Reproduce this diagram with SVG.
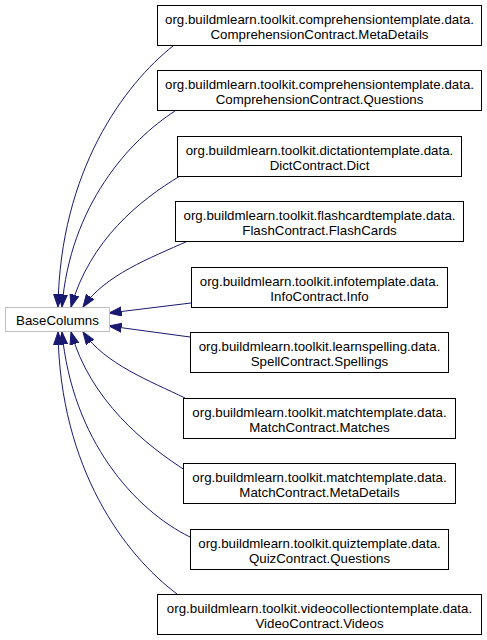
<svg xmlns="http://www.w3.org/2000/svg" width="487" height="640" viewBox="0 0 487 640">
<style>
.n rect{fill:#fff;stroke:#000;stroke-width:1}
.base rect{fill:#fff;stroke:#bfbfbf;stroke-width:1}
text{font-family:"Liberation Sans",Arial,Helvetica,sans-serif;font-size:13.3px;fill:#000;text-anchor:middle}
.e path{fill:none;stroke:#191970;stroke-width:1;marker-end:url(#ah)}
</style>
<defs>
<marker id="ah" markerUnits="userSpaceOnUse" markerWidth="14" markerHeight="11" refX="12.5" refY="5" orient="auto" viewBox="0 0 14 11">
<path d="M0,0.5 L12.5,5 L0,9.5 Z" fill="#191970" stroke="#191970" stroke-width="1"/>
</marker>
</defs>
<rect width="487" height="640" fill="#fff"/>
<g id="edges" class="e">
<path d="M173,46 C125,84 60,170 58,307"/>
<path d="M175,111 C130,140 70,205 62,307"/>
<path d="M180,176 C140,200 90,240 71,307"/>
<path d="M188,241 C150,258 105,275 83,307"/>
<path d="M191,303 L109,313"/>
<path d="M190,337 L109,326"/>
<path d="M185,398 C150,381 105,364 83,332"/>
<path d="M188,472 C145,445 90,400 71,332"/>
<path d="M190,537 C135,510 72,440 62,332"/>
<path d="M177,594 C125,555 60,469 58,332"/>
</g>
<g id="BaseColumns" class="base">
<rect x="5.5" y="307.5" width="104" height="24"/>
<text x="57.5" y="324.5">BaseColumns</text>
</g>
<g id="n1" class="n">
<rect x="157.5" y="5.5" width="324" height="40"/>
<text x="319.5" y="24">org.buildmlearn.toolkit.comprehensiontemplate.data.</text>
<text x="319.5" y="38.5">ComprehensionContract.MetaDetails</text>
</g>
<g id="n2" class="n">
<rect x="157.5" y="70.5" width="324" height="40"/>
<text x="319.5" y="89">org.buildmlearn.toolkit.comprehensiontemplate.data.</text>
<text x="319.5" y="103.5">ComprehensionContract.Questions</text>
</g>
<g id="n3" class="n">
<rect x="177.5" y="136.5" width="284" height="40"/>
<text x="319.5" y="155">org.buildmlearn.toolkit.dictationtemplate.data.</text>
<text x="319.5" y="169.5">DictContract.Dict</text>
</g>
<g id="n4" class="n">
<rect x="175.5" y="201.5" width="288" height="40"/>
<text x="319.5" y="220">org.buildmlearn.toolkit.flashcardtemplate.data.</text>
<text x="319.5" y="234.5">FlashContract.FlashCards</text>
</g>
<g id="n5" class="n">
<rect x="191.5" y="267.5" width="256" height="40"/>
<text x="319.5" y="286">org.buildmlearn.toolkit.infotemplate.data.</text>
<text x="319.5" y="300.5">InfoContract.Info</text>
</g>
<g id="n6" class="n">
<rect x="190.5" y="332.5" width="258" height="40"/>
<text x="319.5" y="351">org.buildmlearn.toolkit.learnspelling.data.</text>
<text x="319.5" y="365.5">SpellContract.Spellings</text>
</g>
<g id="n7" class="n">
<rect x="183.5" y="398.5" width="272" height="40"/>
<text x="319.5" y="417">org.buildmlearn.toolkit.matchtemplate.data.</text>
<text x="319.5" y="431.5">MatchContract.Matches</text>
</g>
<g id="n8" class="n">
<rect x="183.5" y="463.5" width="272" height="40"/>
<text x="319.5" y="482">org.buildmlearn.toolkit.matchtemplate.data.</text>
<text x="319.5" y="496.5">MatchContract.MetaDetails</text>
</g>
<g id="n9" class="n">
<rect x="190.5" y="529.5" width="258" height="40"/>
<text x="319.5" y="548">org.buildmlearn.toolkit.quiztemplate.data.</text>
<text x="319.5" y="562.5">QuizContract.Questions</text>
</g>
<g id="n10" class="n">
<rect x="157.5" y="594.5" width="324" height="40"/>
<text x="319.5" y="613">org.buildmlearn.toolkit.videocollectiontemplate.data.</text>
<text x="319.5" y="627.5">VideoContract.Videos</text>
</g>
</svg>
